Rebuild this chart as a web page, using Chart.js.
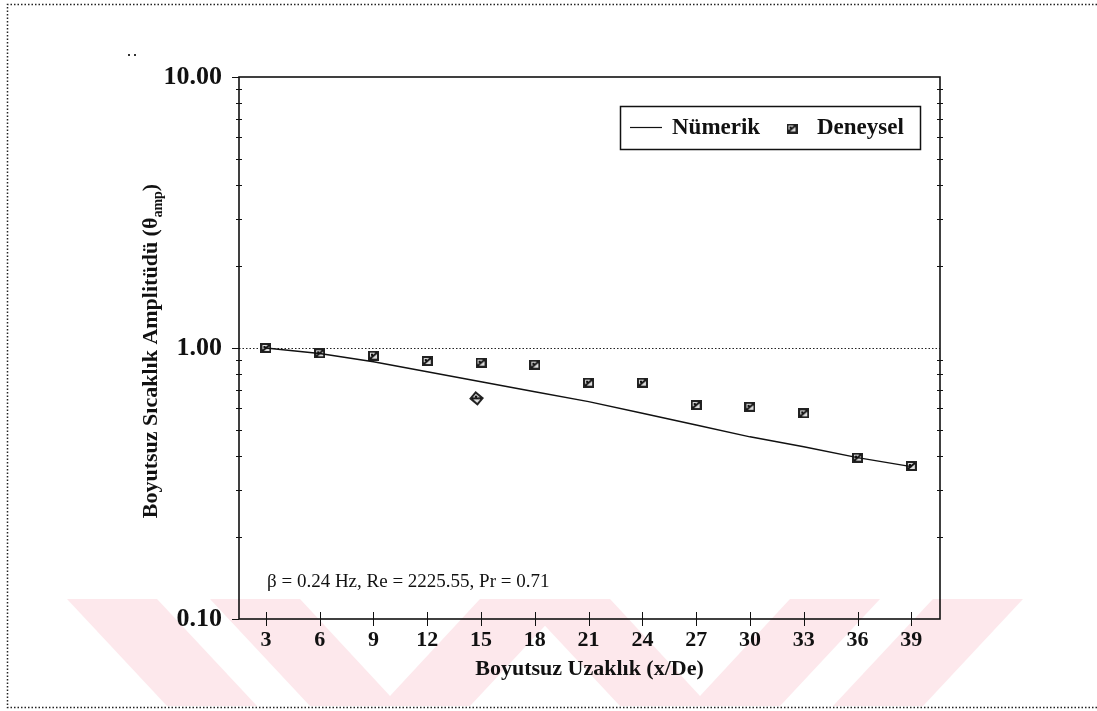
<!DOCTYPE html>
<html>
<head>
<meta charset="utf-8">
<script src="https://cdn.jsdelivr.net/npm/chart.js@4.4.1/dist/chart.umd.min.js"></script>
<style>
  html, body { margin: 0; padding: 0; background: #fff; }
  #wrap { width: 1097px; height: 711px; }
</style>
</head>
<body>
<div id="wrap"><canvas id="c" width="1097" height="711"></canvas></div>
<script>
// ---- data ----
const xTicks = [3, 6, 9, 12, 15, 18, 21, 24, 27, 30, 33, 36, 39];
const yDecades = [0.1, 1, 10];
const numerikX = [3, 6, 9, 12, 15, 18, 21, 24, 27, 30, 33, 36, 39];
const numerikY = [1.0, 0.955, 0.89, 0.818, 0.751, 0.69, 0.634, 0.574, 0.52, 0.47, 0.432, 0.394, 0.365];
const deneyselX = [3, 6, 9, 12, 14.75, 15, 18, 21, 24, 27, 30, 33, 36, 39];
const deneyselY = [1.0, 0.956, 0.937, 0.895, 0.652, 0.883, 0.868, 0.745, 0.745, 0.616, 0.607, 0.574, 0.394, 0.367];
const seriesNames = ['Nümerik', 'Deneysel'];
const xTitle = 'Boyutsuz Uzaklık (x/De)';
const yTitleMain = 'Boyutsuz Sıcaklık Amplitüdü (θ';
const yTitleSub = 'amp';
const yTitleEnd = ')';
const noteText = 'β = 0.24 Hz, Re = 2225.55, Pr = 0.71';

const FONT = '"Liberation Serif", "Times New Roman", serif';
const INK = '#111';

// hatched square marker
function makeMarker() {
  const c = document.createElement('canvas');
  c.width = 11; c.height = 10;
  const g = c.getContext('2d');
  g.fillStyle = '#222';
  g.fillRect(0, 0, 11, 10);
  g.fillStyle = '#ddd';
  g.fillRect(2, 2, 7, 6);
  g.strokeStyle = '#111';
  g.lineWidth = 2;
  g.beginPath();
  g.moveTo(2, 8); g.lineTo(9, 2);
  g.stroke();
  g.fillStyle = '#111';
  g.fillRect(3, 3, 2, 2);
  return c;
}
const marker = makeMarker();

const numerikPts = numerikX.map((x, i) => ({ x, y: numerikY[i] }));
const deneyselPts = deneyselX.map((x, i) => ({ x, y: deneyselY[i] }));
const markerRotation = deneyselX.map(x => (Number.isInteger(x) ? 0 : 40));

function isDecade(v) { return yDecades.some(d => Math.abs(d - v) < 1e-9); }

// light chevron band along the bottom of the page
function chevronBand(ctx) {
  const y0 = 599, y1 = 706, cx = 545;
  const left = [
    [[67, y0], [157, y0], [257, y1], [167, y1]],
    [[210, y0], [300, y0], [390, 696], [480, y0], [570, y0], [470, y1], [310, y1]]
  ];
  const polys = left.concat(left.map(p => p.map(([x, y]) => [2 * cx - x, y])));
  ctx.save();
  ctx.fillStyle = '#fde8ec';
  for (const p of polys) {
    ctx.beginPath();
    p.forEach(([x, y], i) => (i ? ctx.lineTo(x, y) : ctx.moveTo(x, y)));
    ctx.closePath();
    ctx.fill();
  }
  ctx.restore();
}

const decor = {
  id: 'decor',
  beforeDraw(chart) {
    const ctx = chart.ctx;
    ctx.save();
    ctx.fillStyle = '#fff';
    ctx.fillRect(0, 0, chart.width, chart.height);
    ctx.restore();
    chevronBand(ctx);
    // dotted page frame
    ctx.save();
    ctx.strokeStyle = '#222';
    ctx.lineWidth = 1.5;
    ctx.setLineDash([1.5, 2]);
    ctx.beginPath();
    ctx.moveTo(1097, 4.5); ctx.lineTo(7.5, 4.5); ctx.lineTo(7.5, 707.5); ctx.lineTo(1097, 707.5);
    ctx.stroke();
    ctx.setLineDash([]);
    ctx.fillStyle = '#333';
    ctx.fillRect(128, 54, 2, 2);
    ctx.fillRect(134, 54, 2, 2);
    ctx.restore();
  },
  beforeDatasetsDraw(chart) {
    const { ctx, chartArea: a, scales: { y } } = chart;
    const py = Math.round(y.getPixelForValue(1)) + 0.5;
    ctx.save();
    ctx.strokeStyle = '#222';
    ctx.lineWidth = 1.2;
    ctx.setLineDash([1.5, 2]);
    ctx.beginPath();
    ctx.moveTo(a.left, py); ctx.lineTo(a.right, py);
    ctx.stroke();
    ctx.restore();
  },
  afterDatasetsDraw(chart) {
    const { ctx, chartArea: a, scales: { x, y } } = chart;
    ctx.save();
    ctx.strokeStyle = INK;
    // plot frame
    ctx.lineWidth = 1.6;
    ctx.strokeRect(a.left, a.top, a.right - a.left, a.bottom - a.top);
    // y ticks: outward ticks at decades, short crosses at minors (both sides)
    ctx.lineWidth = 1;
    for (const t of y.ticks) {
      const py = Math.round(y.getPixelForValue(t.value)) + 0.5;
      ctx.beginPath();
      if (isDecade(t.value)) {
        ctx.moveTo(a.left - 7, py); ctx.lineTo(a.left, py);
      } else {
        ctx.moveTo(a.left - 3, py); ctx.lineTo(a.left + 3, py);
        ctx.moveTo(a.right - 3, py); ctx.lineTo(a.right + 3, py);
      }
      ctx.stroke();
    }
    // x ticks
    for (const v of xTicks) {
      const px = Math.round(x.getPixelForValue(v)) + 0.5;
      ctx.beginPath();
      ctx.moveTo(px, a.bottom - 7); ctx.lineTo(px, a.bottom + 7);
      ctx.stroke();
    }

    // legend box
    const lx = 620, ly = 106, lw = 300, lh = 43, my = ly + lh / 2;
    ctx.lineWidth = 1.5;
    ctx.strokeRect(lx + 0.5, ly + 0.5, lw, lh);
    ctx.lineWidth = 1.2;
    ctx.beginPath();
    ctx.moveTo(630, my); ctx.lineTo(662, my);
    ctx.stroke();
    ctx.fillStyle = INK;
    ctx.font = 'bold 23px ' + FONT;
    ctx.textBaseline = 'middle';
    ctx.textAlign = 'left';
    ctx.fillText(seriesNames[0], 672, my + 1);
    ctx.drawImage(marker, 792 - 5.5, my - 4);
    ctx.fillText(seriesNames[1], 817, my + 1);

    // parameter note
    ctx.font = '19px ' + FONT;
    ctx.textBaseline = 'alphabetic';
    ctx.fillText(noteText, 267, 587);

    // x axis title
    ctx.font = 'bold 22px ' + FONT;
    ctx.textAlign = 'center';
    ctx.fillText(xTitle, (a.left + a.right) / 2, 675);

    // y axis title with subscript, rotated
    ctx.save();
    ctx.translate(157, 351);
    ctx.rotate(-Math.PI / 2);
    const fMain = 'bold 22px ' + FONT, fSub = 'bold 14px ' + FONT;
    ctx.font = fMain; const w1 = ctx.measureText(yTitleMain).width;
    const w3 = ctx.measureText(yTitleEnd).width;
    ctx.font = fSub; const w2 = ctx.measureText(yTitleSub).width;
    let sx = -(w1 + w2 + w3) / 2;
    ctx.textAlign = 'left';
    ctx.font = fMain; ctx.fillText(yTitleMain, sx, 0); sx += w1;
    ctx.font = fSub; ctx.fillText(yTitleSub, sx, 5); sx += w2;
    ctx.font = fMain; ctx.fillText(yTitleEnd, sx, 0);
    ctx.restore();

    ctx.restore();
  }
};

new Chart(document.getElementById('c'), {
  type: 'scatter',
  data: {
    datasets: [
      {
        label: seriesNames[0],
        data: numerikPts,
        showLine: true,
        borderColor: INK,
        borderWidth: 1.5,
        pointRadius: 0,
        tension: 0,
        fill: false
      },
      {
        label: seriesNames[1],
        data: deneyselPts,
        showLine: false,
        pointStyle: marker,
        pointRotation: markerRotation,
        pointRadius: 5
      }
    ]
  },
  options: {
    responsive: false,
    devicePixelRatio: 1,
    animation: false,
    events: [],
    layout: { padding: { left: 0, right: 157, top: 77, bottom: 0 } },
    plugins: { legend: { display: false }, tooltip: { enabled: false } },
    scales: {
      x: {
        type: 'linear',
        min: 1.5,
        max: 40.6,
        afterBuildTicks: s => { s.ticks = xTicks.map(v => ({ value: v })); },
        afterFit: s => { s.height = 92; },
        grid: { display: false, drawTicks: false },
        border: { display: false },
        ticks: {
          autoSkip: false,
          maxRotation: 0,
          padding: 8,
          color: INK,
          font: { family: FONT, size: 22, weight: 'bold' },
          callback: v => String(v)
        }
      },
      y: {
        type: 'logarithmic',
        min: 0.1,
        max: 10,
        afterBuildTicks: s => {
          const t = [];
          for (const d of yDecades.slice(0, -1)) for (let k = 1; k < 10; k++) t.push({ value: +(k * d).toPrecision(6) });
          t.push({ value: yDecades[yDecades.length - 1] });
          s.ticks = t;
        },
        afterFit: s => { s.width = 239; },
        grid: { display: false, drawTicks: false },
        border: { display: false },
        ticks: {
          autoSkip: false,
          padding: 17,
          color: INK,
          font: { family: FONT, size: 26, weight: 'bold' },
          callback: v => (isDecade(v) ? v.toFixed(2) : '')
        }
      }
    }
  },
  plugins: [decor]
});
</script>
</body>
</html>
